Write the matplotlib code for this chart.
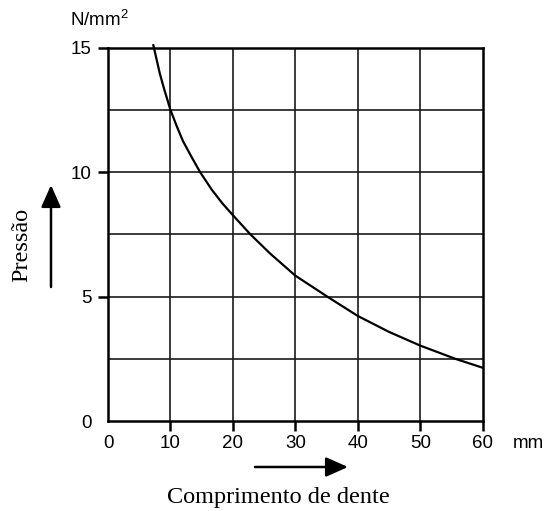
import matplotlib.pyplot as plt
from matplotlib.patches import FancyArrowPatch

# comprimento de dente (mm) vs pressão (N/mm²)
comprimento = [7.26, 8.3, 9.0, 10.0, 11.0, 12.0, 13.4, 14.75, 16.6, 18.3, 20.0,
               22.8, 26.0, 30.0, 35.1, 40.0, 45.0, 50.0, 55.6, 60.0]
pressao = [15.1, 13.96, 13.33, 12.5, 11.85, 11.25, 10.6, 10.0, 9.3, 8.75, 8.27,
           7.5, 6.72, 5.84, 5.0, 4.22, 3.58, 3.03, 2.5, 2.14]

x_ticks = [0, 10, 20, 30, 40, 50, 60]
y_ticks = [0, 5, 10, 15]
y_grid = [2.5, 7.5, 12.5]

sans = 'Liberation Sans'
serif = 'Liberation Serif'
plt.rcParams['mathtext.fontset'] = 'custom'
plt.rcParams['mathtext.rm'] = sans

fig = plt.figure(figsize=(5.48, 5.11), dpi=100)
ax = fig.add_axes([108 / 548, 90 / 511, 374.7 / 548, 373.3 / 511])

ax.set_xlim(0, 60)
ax.set_ylim(0, 15)
ax.set_xticks(x_ticks)
ax.set_yticks(y_ticks)

for v in x_ticks[1:-1]:
    ax.axvline(v, color='#1a1a1a', lw=1.2, zorder=1)
for v in y_ticks[1:-1] + y_grid:
    ax.axhline(v, color='#1a1a1a', lw=1.2, zorder=1)

ax.plot(comprimento, pressao, color='black', lw=1.6, clip_on=False, zorder=3,
        solid_joinstyle='round')

for s in ax.spines.values():
    s.set_linewidth(1.8)

ax.tick_params(axis='both', direction='out', length=7, width=1.8, labelsize=13.5, colors='black')
ax.tick_params(axis='x', pad=3)
ax.tick_params(axis='y', pad=5)
for lbl in ax.get_xticklabels() + ax.get_yticklabels():
    lbl.set_fontfamily(sans)
ax.xaxis.get_major_ticks()[0].tick1line.set_visible(False)
ax.yaxis.get_major_ticks()[0].tick1line.set_visible(False)

# unidades
fig.text(99 / 548, 1 - 20 / 511, 'N/mm$^2$', family=sans, fontsize=13.5, ha='center', va='center')
fig.text(528 / 548, 1 - 443 / 511, 'mm', family=sans, fontsize=13.5, ha='center', va='center')

# rótulos dos eixos com setas
fig.text(22 / 548, 1 - 245 / 511, 'Pressão', family=serif, fontsize=17.5, rotation=90,
         ha='center', va='center')
fig.text(278 / 548, 1 - 498 / 511, 'Comprimento de dente', family=serif, fontsize=17.5,
         ha='center', va='center')

estilo = '-|>,head_length=0.9,head_width=0.4'
fig.patches.append(FancyArrowPatch(
    (51 / 548, 1 - 287 / 511), (51 / 548, 1 - 185 / 511), transform=fig.transFigure,
    arrowstyle=estilo, color='black', lw=1.8, mutation_scale=15, shrinkA=0, shrinkB=0))
fig.patches.append(FancyArrowPatch(
    (255 / 548, 1 - 467 / 511), (348 / 548, 1 - 467 / 511), transform=fig.transFigure,
    arrowstyle=estilo, color='black', lw=1.8, mutation_scale=15, shrinkA=0, shrinkB=0))

fig.savefig('out.png', dpi=100)
